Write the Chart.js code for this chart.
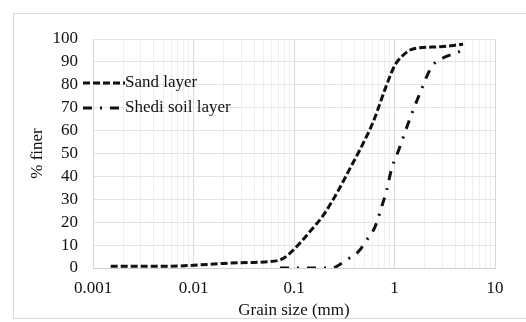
<!DOCTYPE html>
<html>
<head>
<meta charset="utf-8">
<script src="https://cdn.jsdelivr.net/npm/chart.js@4/dist/chart.umd.min.js"></script>
<style>
  html, body { margin: 0; padding: 0; background: #fff; overflow: hidden; }
  #frame { position: absolute; left: 13px; top: 13px; width: 600px; height: 304px; border: 1px solid #d9d9d9; }
  #c { position: absolute; left: 0; top: 0; }
</style>
</head>
<body>
<div id="frame"></div>
<canvas id="c" width="526" height="322"></canvas>
<script>
// grain size curves
const sandSize  = [0.0015, 0.003, 0.006, 0.01, 0.02, 0.035, 0.055, 0.0783, 0.106, 0.144, 0.196, 0.266, 0.361, 0.433, 0.615, 0.836, 1.01, 1.18, 1.43, 1.79, 2.84, 4.81];
const sandFiner = [0.8,    0.8,   0.8,   1.2,  2.0,  2.4,   2.7,   4.2,    9.3,   15.9,  23.1,  32.6,  43.5,  50,    63.9,  80,    88.6, 92.3, 95.2, 96.2, 96.6, 97.7];

const shediSize  = [0.0726, 0.15, 0.237, 0.334, 0.436, 0.529, 0.64, 0.746, 0.836, 0.938, 1.09, 1.37, 1.79, 2.35, 3.06, 4.0, 4.84];
const shediFiner = [0,      0,    0,     3.6,   7.1,   12.2,  18,   26.8,  34,    43.5,  51,   63.2, 76.3, 87.9, 91.8, 93.7, 95.2];

const seriesNames = ['Sand layer', 'Shedi soil layer'];
const xTitle = 'Grain size (mm)';
const yTitle = '% finer';
const yTicks = [0, 10, 20, 30, 40, 50, 60, 70, 80, 90, 100];
const xDecades = [0.001, 0.01, 0.1, 1, 10];

const FONT = 'Liberation Serif';
const TXT = '#111';

function pts(xs, ys) {
    return xs.map((x, i) => ({x: x, y: ys[i]}));
}

const isDecade = v => xDecades.some(d => Math.abs(v - d) < d * 1e-6);

// legend drawn inside the plot, left side
const insideLegend = {
    id: 'insideLegend',
    afterDraw(chart) {
        const ctx = chart.ctx;
        const a = chart.chartArea;
        const x0 = a.left - 10, x1 = a.left + 32;
        chart.data.datasets.forEach((ds, i) => {
            const y = a.top + 44 + i * 25;
            ctx.save();
            ctx.strokeStyle = ds.borderColor;
            ctx.lineWidth = ds.borderWidth;
            ctx.setLineDash(ds.borderDash);
            ctx.beginPath();
            ctx.moveTo(x0, y);
            ctx.lineTo(x1, y);
            ctx.stroke();
            ctx.setLineDash([]);
            ctx.fillStyle = TXT;
            ctx.font = '17px "' + FONT + '"';
            ctx.textBaseline = 'middle';
            ctx.textAlign = 'left';
            ctx.fillText(ds.label, x1, y);
            ctx.restore();
        });
    }
};

new Chart(document.getElementById('c'), {
    type: 'line',
    data: {
        datasets: [{
            label: seriesNames[0],
            data: pts(sandSize, sandFiner),
            borderColor: '#111',
            borderWidth: 3,
            borderDash: [7, 3],
            pointRadius: 0,
            cubicInterpolationMode: 'monotone',
            fill: false
        }, {
            label: seriesNames[1],
            data: pts(shediSize, shediFiner),
            borderColor: '#111',
            borderWidth: 3,
            borderDash: [9, 8, 2, 8],
            pointRadius: 0,
            cubicInterpolationMode: 'monotone',
            fill: false
        }]
    },
    options: {
        responsive: false,
        animation: false,
        layout: {padding: {left: 0, right: 31, top: 39, bottom: 0}},
        plugins: {
            legend: {display: false},
            tooltip: {enabled: false}
        },
        scales: {
            x: {
                type: 'logarithmic',
                min: 0.001,
                max: 10,
                afterFit: s => { s.height = 54; },
                afterBuildTicks: s => {
                    const t = [];
                    xDecades.forEach((d, i) => {
                        if (i === xDecades.length - 1) { t.push({value: d}); return; }
                        for (let k = 1; k <= 9; k++) t.push({value: Number((k * d).toPrecision(3))});
                    });
                    s.ticks = t;
                },
                ticks: {
                    autoSkip: false,
                    maxRotation: 0,
                    padding: 10,
                    color: TXT,
                    font: {family: FONT, size: 17},
                    callback: v => isDecade(v) ? String(Number(v.toPrecision(1))) : ''
                },
                grid: {
                    drawTicks: false,
                    color: c => isDecade(c.tick.value) ? '#d9d9d9' : '#efefef',
                    lineWidth: 1
                },
                border: {color: '#d0d0d0'},
                title: {
                    display: true,
                    text: xTitle,
                    color: TXT,
                    font: {family: FONT, size: 17},
                    padding: {top: 0, bottom: 1}
                }
            },
            y: {
                type: 'linear',
                min: 0,
                max: 100,
                afterFit: s => { s.width = 93; },
                afterBuildTicks: s => { s.ticks = yTicks.map(v => ({value: v})); },
                ticks: {
                    autoSkip: false,
                    padding: 15,
                    color: TXT,
                    font: {family: FONT, size: 17}
                },
                grid: {drawTicks: false, color: '#e3e3e3'},
                border: {color: '#d9d9d9'},
                title: {
                    display: true,
                    text: yTitle,
                    color: TXT,
                    font: {family: FONT, size: 17},
                    padding: {top: 27, bottom: 0}
                }
            }
        }
    },
    plugins: [insideLegend]
});
</script>
</body>
</html>
